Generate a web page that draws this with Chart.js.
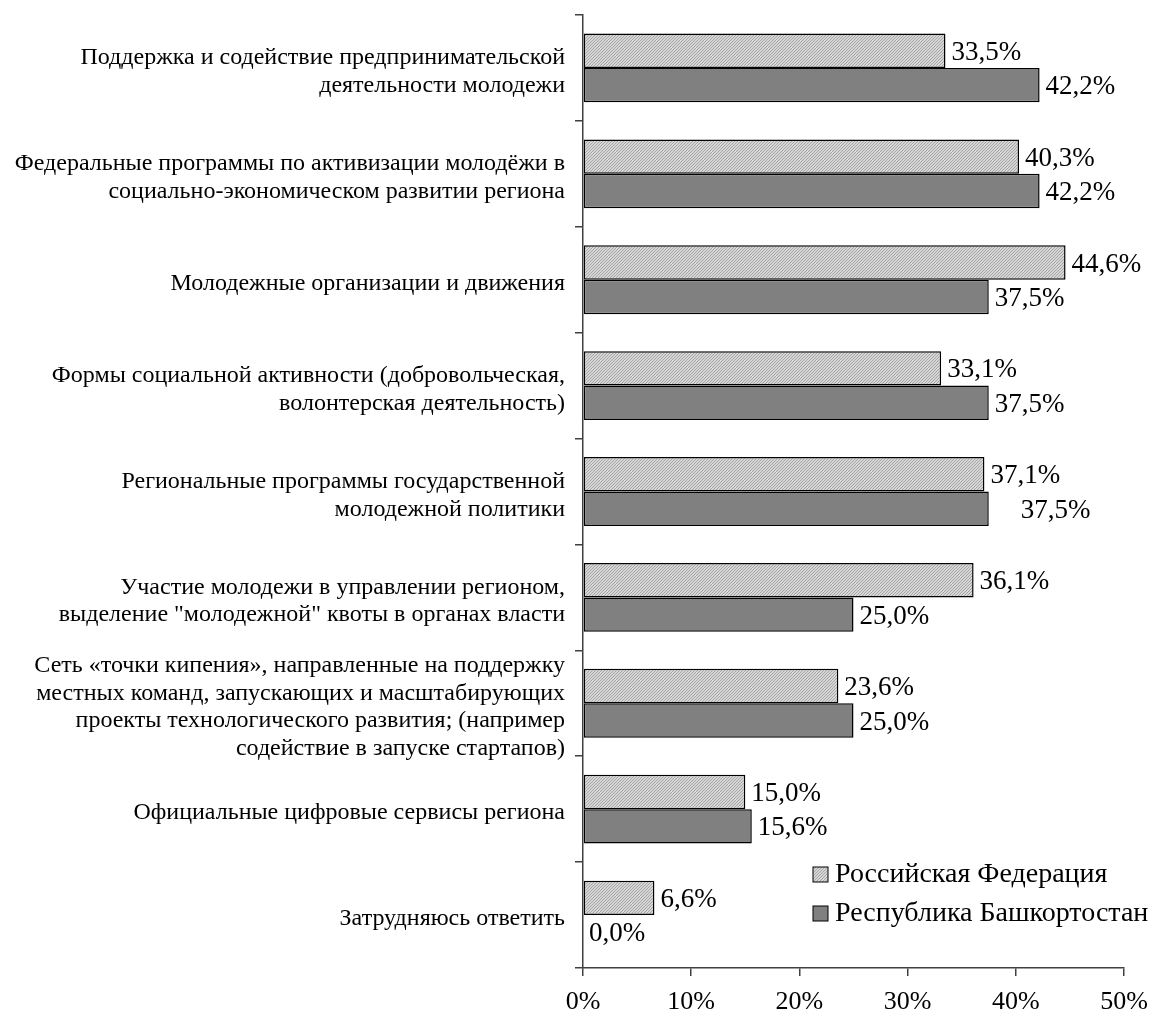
<!DOCTYPE html>
<html>
<head>
<meta charset="utf-8">
<script src="https://cdn.jsdelivr.net/npm/chart.js@4.4.1/dist/chart.umd.min.js"></script>
<style>
  html, body { margin: 0; padding: 0; background: #fff; }
  #wrap { width: 1150px; height: 1022px; }
</style>
</head>
<body>
<div id="wrap"><canvas id="chart"></canvas></div>
<script>
const categories = [
  ['Поддержка и содействие предпринимательской', 'деятельности молодежи'],
  ['Федеральные программы по активизации молодёжи в', 'социально-экономическом развитии региона'],
  ['Молодежные организации и движения'],
  ['Формы социальной активности (добровольческая,', 'волонтерская деятельность)'],
  ['Региональные программы государственной', 'молодежной политики'],
  ['Участие молодежи в управлении регионом,', 'выделение "молодежной" квоты в органах власти'],
  ['Сеть «точки кипения», направленные на поддержку', 'местных команд, запускающих и масштабирующих', 'проекты технологического развития; (например', 'содействие в запуске стартапов)'],
  ['Официальные цифровые сервисы региона'],
  ['Затрудняюсь ответить']
];
const seriesNames = ['Российская Федерация', 'Республика Башкортостан'];
const rfValues = [33.5, 40.3, 44.6, 33.1, 37.1, 36.1, 23.6, 15.0, 6.6];
const rbValues = [42.2, 42.2, 37.5, 37.5, 37.5, 25.0, 25.0, 15.6, 0.0];
const xTicks = [0, 10, 20, 30, 40, 50];

// fine hatched fill for the light series
function makeHatch() {
  const c = document.createElement('canvas');
  c.width = 3; c.height = 3;
  const g = c.getContext('2d');
  g.fillStyle = '#d6d6d6';
  g.fillRect(0, 0, 3, 3);
  g.fillStyle = '#a6a6a6';
  for (let i = 0; i < 3; i++) g.fillRect(i, 2 - i, 1, 1);
  return g.createPattern(c, 'repeat');
}
const hatch = makeHatch();
const serif = '"Liberation Serif", "Times New Roman", serif';

const fmt = v => v.toFixed(1).replace('.', ',') + '%';

// the original nudges one label sideways (dataset 1, category 5)
const nudge = { '1-4': 26 };

const valueLabels = {
  id: 'valueLabels',
  afterDatasetsDraw(chart) {
    const ctx = chart.ctx;
    ctx.save();
    ctx.font = '27px ' + serif;
    ctx.fillStyle = '#000';
    ctx.textBaseline = 'middle';
    ctx.textAlign = 'left';
    chart.data.datasets.forEach((ds, di) => {
      chart.getDatasetMeta(di).data.forEach((bar, i) => {
        const dx = nudge[di + '-' + i] || 0;
        ctx.fillText(fmt(ds.data[i]), bar.x + 6 + dx, bar.y + 2);
      });
    });
    ctx.restore();
  }
};

const innerLegend = {
  id: 'innerLegend',
  afterDraw(chart) {
    const ctx = chart.ctx;
    const a = chart.chartArea;
    ctx.save();
    ctx.font = '28px ' + serif;
    ctx.textBaseline = 'middle';
    chart.data.datasets.forEach((ds, i) => {
      const x = a.right - 311;
      const y = a.bottom - 94 + i * 39;
      ctx.fillStyle = ds.backgroundColor;
      ctx.fillRect(x, y - 7, 15, 15);
      ctx.strokeStyle = '#000';
      ctx.lineWidth = 1;
      ctx.strokeRect(x, y - 7, 15, 15);
      ctx.fillStyle = '#000';
      ctx.fillText(ds.label, x + 22, y + 1);
    });
    ctx.restore();
  }
};

new Chart(document.getElementById('chart'), {
  type: 'bar',
  data: {
    labels: categories,
    datasets: [
      { label: seriesNames[0], data: rfValues, backgroundColor: hatch, borderColor: '#000', borderWidth: 1.5, borderSkipped: false },
      { label: seriesNames[1], data: rbValues, backgroundColor: '#808080', borderColor: '#000', borderWidth: 1.5, borderSkipped: false }
    ]
  },
  options: {
    indexAxis: 'y',
    responsive: true,
    maintainAspectRatio: false,
    animation: false,
    categoryPercentage: 0.65,
    barPercentage: 1.0,
    layout: { padding: { top: 15, right: 0, left: 0, bottom: 0 } },
    plugins: { legend: { display: false }, tooltip: { enabled: false } },
    scales: {
      x: {
        min: 0, max: 50,
        afterBuildTicks: s => { s.ticks = xTicks.map(v => ({ value: v })); },
        afterFit: s => { s.height = 54; s.paddingRight = 26; s.paddingLeft = 0; },
        border: { color: '#404040', width: 1.5 },
        grid: { drawOnChartArea: false, drawTicks: true, tickLength: 8, color: '#404040', lineWidth: 1.5 },
        ticks: { color: '#000', font: { family: serif, size: 26 }, padding: 11, callback: v => v + '%' }
      },
      y: {
        afterFit: s => { s.width = 583; s.paddingTop = 0; s.paddingBottom = 0; },
        border: { color: '#404040', width: 1.5 },
        grid: { drawOnChartArea: false, drawTicks: true, tickLength: 8, offset: true, color: '#404040', lineWidth: 1.5 },
        ticks: { color: '#000', autoSkip: false, labelOffset: 4, font: { family: serif, size: 24, lineHeight: 1.15 }, padding: 10 }
      }
    }
  },
  plugins: [valueLabels, innerLegend]
});
</script>
</body>
</html>
